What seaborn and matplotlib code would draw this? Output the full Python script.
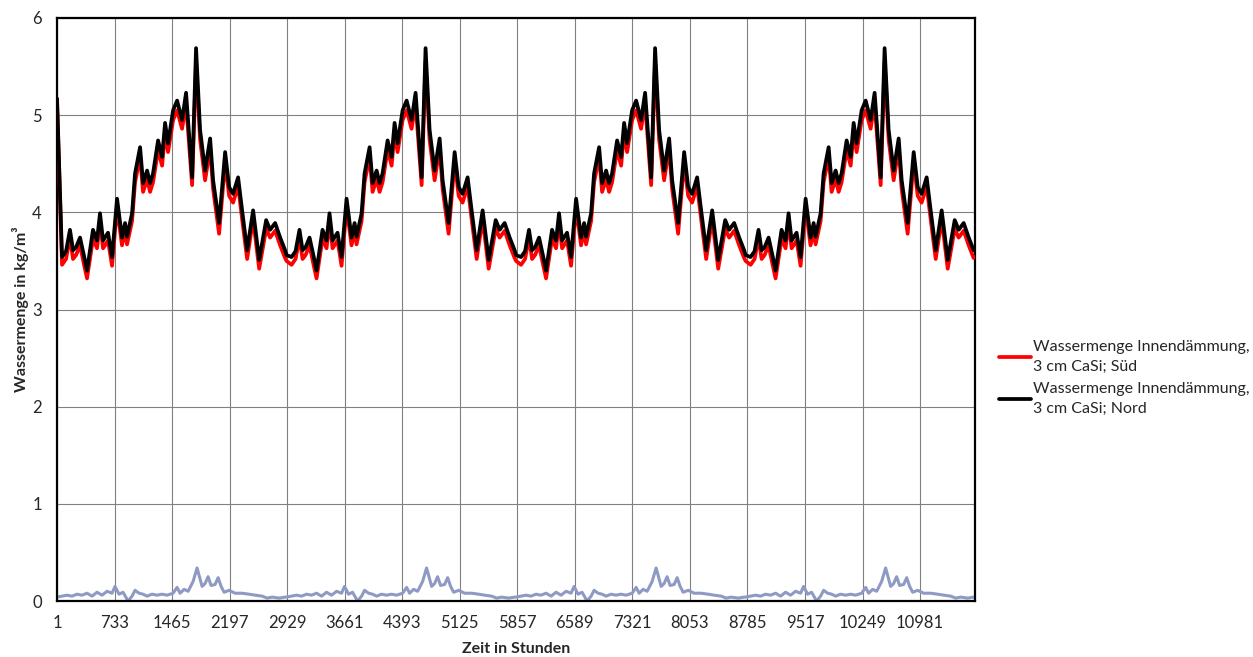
import numpy as np
import pandas as pd
import matplotlib
matplotlib.use("Agg")
import matplotlib.pyplot as plt
import seaborn as sns

# one simulated year (2920 h); the chart repeats it 4 times
cycle_len = 2920
n_cycles = 4
x_end = 11680

nord_start = 5.17  # initial water content at hour 1
cycle_hours = [0, 64, 115, 165, 204, 242, 293, 344, 382, 458, 509, 547, 586, 649, 700,
               764, 827, 866, 891, 955, 993, 1057, 1095, 1146, 1184, 1222, 1286, 1337,
               1375, 1413, 1477, 1528, 1591, 1642, 1719, 1769, 1820, 1884, 1948, 1986,
               2062, 2139, 2190, 2240, 2304, 2355, 2419, 2495, 2572, 2661, 2711, 2775,
               2839, 2902]
nord_cycle = [3.56, 3.54, 3.60, 3.82, 3.61, 3.64, 3.74, 3.55, 3.40, 3.82, 3.71, 3.99,
              3.71, 3.79, 3.54, 4.14, 3.74, 3.89, 3.75, 3.99, 4.40, 4.67, 4.30, 4.43,
              4.30, 4.40, 4.74, 4.57, 4.92, 4.71, 5.05, 5.15, 4.95, 5.23, 4.36, 5.69,
              4.85, 4.43, 4.76, 4.33, 3.89, 4.62, 4.26, 4.19, 4.36, 4.02, 3.61, 4.02,
              3.51, 3.92, 3.82, 3.89, 3.74, 3.61]
sued_cycle = [3.50, 3.46, 3.52, 3.74, 3.52, 3.56, 3.66, 3.46, 3.32, 3.73, 3.63, 3.90,
              3.63, 3.71, 3.45, 4.05, 3.66, 3.81, 3.67, 3.91, 4.31, 4.57, 4.21, 4.34,
              4.21, 4.31, 4.64, 4.48, 4.82, 4.62, 4.95, 5.05, 4.86, 5.12, 4.28, 5.55,
              4.75, 4.33, 4.66, 4.24, 3.78, 4.52, 4.17, 4.10, 4.27, 3.93, 3.52, 3.93,
              3.42, 3.83, 3.74, 3.81, 3.66, 3.53]

# third (unlabelled) series near zero
diff_hours = [0, 64, 127, 191, 255, 318, 382, 446, 509, 573, 637, 700, 738, 789, 840,
              904, 955, 993, 1044, 1095, 1146, 1209, 1273, 1337, 1400, 1477, 1528, 1566,
              1617, 1668, 1731, 1782, 1846, 1884, 1922, 1960, 2011, 2050, 2088, 2126,
              2190, 2266, 2355, 2444, 2521, 2610, 2673, 2737, 2826, 2902]
diff_cycle = [0.04, 0.05, 0.06, 0.05, 0.07, 0.06, 0.08, 0.05, 0.09, 0.06, 0.10, 0.08,
              0.15, 0.07, 0.09, 0.00, 0.05, 0.11, 0.08, 0.07, 0.05, 0.07, 0.06, 0.07,
              0.06, 0.08, 0.14, 0.08, 0.12, 0.10, 0.20, 0.34, 0.15, 0.18, 0.25, 0.16,
              0.17, 0.24, 0.15, 0.09, 0.11, 0.08, 0.08, 0.07, 0.06, 0.05, 0.03, 0.04,
              0.03, 0.04]

x_ticks = [1, 733, 1465, 2197, 2929, 3661, 4393, 5125, 5857, 6589, 7321, 8053,
           8785, 9517, 10249, 10981]
label_sued = "Wassermenge Innendämmung,\n3 cm CaSi; Süd"
label_nord = "Wassermenge Innendämmung,\n3 cm CaSi; Nord"


def build(hours, values, first=None):
    rows = []
    for k in range(n_cycles):
        for h, v in zip(hours, values):
            rows.append((k * cycle_len + h + 1, v))
    if first is not None:
        rows[0] = (1, first)
    return rows


sued = pd.DataFrame(build(cycle_hours, sued_cycle, nord_start), columns=["Stunde", "Wert"])
sued["Serie"] = label_sued
nord = pd.DataFrame(build(cycle_hours, nord_cycle, nord_start), columns=["Stunde", "Wert"])
nord["Serie"] = label_nord
diff = pd.DataFrame(build(diff_hours, diff_cycle), columns=["Stunde", "Wert"])

sns.set_style("white")
plt.rcParams['font.family'] = ['Lato', 'DejaVu Sans']

fig = plt.figure(figsize=(12.53, 6.57), dpi=100)
ax = fig.add_axes([57 / 1253, 1 - 601 / 657, (975 - 57) / 1253, (601 - 18) / 657])

sns.lineplot(data=diff, x="Stunde", y="Wert", color="#8e9ac4", linewidth=2.2, ax=ax,
             legend=False, zorder=2)
sns.lineplot(data=pd.concat([sued, nord]), x="Stunde", y="Wert", hue="Serie",
             palette={label_sued: "#ff0000", label_nord: "#000000"},
             linewidth=2.7, ax=ax, zorder=3)
for ln in ax.get_lines():
    ln.set_solid_joinstyle("round")

ax.set_xlim(1, x_end)
ax.set_ylim(0, 6)
ax.set_xticks(x_ticks)
ax.set_xticklabels([str(t) for t in x_ticks], fontsize=12)
ax.set_yticks(range(0, 7))
ax.set_yticklabels([str(t) for t in range(0, 7)], fontsize=12)
ax.grid(True, color="#808080", linewidth=0.8)
ax.set_axisbelow(True)
ax.tick_params(axis="x", direction="inout", length=6, width=0.8, color="#555555", pad=7)
ax.tick_params(axis="y", length=0, pad=11)
for s in ax.spines.values():
    s.set_color("black")
    s.set_linewidth(1.6)

ax.set_xlabel("Zeit in Stunden", fontsize=11.5, fontweight="bold", labelpad=8)
ax.set_ylabel("Wassermenge in kg/m³", fontsize=11.5, fontweight="bold", labelpad=2)

handles, labels = ax.get_legend_handles_labels()
leg = ax.legend(handles, labels, loc="center left",
                bbox_to_anchor=(993 / 1253, 1 - 378 / 657),
                bbox_transform=fig.transFigure, frameon=False, fontsize=11.5,
                handlelength=2.0, handletextpad=0.1, labelspacing=0.5, borderaxespad=0)
for t in leg.get_texts():
    t.set_linespacing(1.55)

fig.savefig("out.png", dpi=100)
